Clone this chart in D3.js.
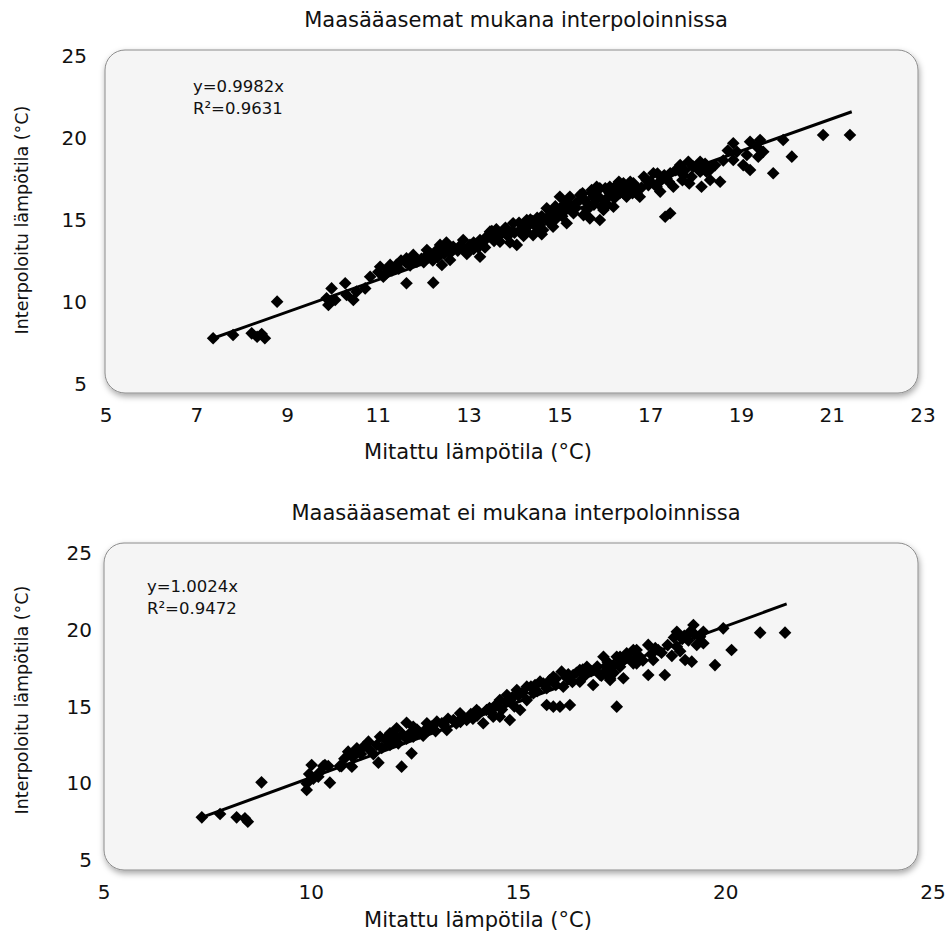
<!DOCTYPE html>
<html>
<head>
<meta charset="utf-8">
<script src="https://cdn.jsdelivr.net/npm/d3@7"></script>
<style>
  body { margin: 0; background: #fff; }
  text { fill: #111; }
</style>
</head>
<body>
<svg id="chart" width="952" height="940"></svg>
<script>
var topTitle = "Maasääasemat mukana interpoloinnissa";
var bottomTitle = "Maasääasemat ei mukana interpoloinnissa";
var xLabel = "Mitattu lämpötila (°C)";
var yLabel = "Interpoloitu lämpötila (°C)";

var topXTicks = [5, 7, 9, 11, 13, 15, 17, 19, 21, 23];
var bottomXTicks = [5, 10, 15, 20, 25];
var yTicks = [5, 10, 15, 20, 25];

var topEquation = ["y=0.9982x", "R²=0.9631"];
var bottomEquation = ["y=1.0024x", "R²=0.9472"];

var topFit = [[7.36, 7.76], [21.43, 21.57]];
var bottomFit = [[7.36, 7.78], [21.47, 21.68]];

var topPoints = [
  [7.36,7.76],[7.80,7.96],[8.21,8.06],[8.33,7.85],[8.50,7.76],[8.43,8.02],[8.77,9.99],
  [9.86,10.20],[9.90,9.79],[9.97,10.80],[10.05,10.09],[10.27,11.11],[10.30,10.40],[10.45,10.09],
  [10.52,10.60],[10.71,10.80],[10.82,11.51],[11.04,12.12],[11.11,11.51],[11.26,12.23],[11.40,12.23],
  [11.62,11.11],[12.21,11.15],[11.77,12.84],[12.07,12.73],[12.29,13.14],[11.18,11.72],[11.62,12.63],
  [11.85,12.43],[12.07,13.14],[12.36,13.45],[12.40,12.23],[12.58,12.53],[12.65,13.34],[12.87,13.75],
  [13.02,13.45],[13.24,12.73],[13.24,13.75],[13.46,13.95],[13.46,14.26],[13.68,13.65],[13.75,14.26],
  [13.97,14.77],[14.05,13.45],[14.19,14.56],[14.27,14.97],[14.41,14.05],[14.56,14.66],[14.63,14.36],
  [14.71,15.68],[14.78,15.27],[14.85,14.56],[15.00,16.39],[15.04,15.78],[15.15,14.77],[15.22,16.39],
  [15.30,15.38],[15.44,16.19],[15.52,15.27],[15.66,15.07],[15.74,16.39],[15.81,17.00],[15.88,14.97],
  [15.92,15.78],[16.10,17.00],[16.18,15.78],[16.32,16.60],[16.40,17.21],[16.62,17.00],[16.69,16.60],
  [15.96,15.58],[15.88,16.90],[16.10,16.60],[16.32,17.00],[16.62,17.21],[16.47,16.39],[16.76,16.39],
  [16.91,17.41],[17.06,17.82],[17.13,17.00],[17.21,16.70],[17.28,17.61],[17.32,15.17],[17.43,15.38],
  [17.43,17.82],[17.50,17.00],[17.65,18.32],[17.72,17.71],[17.83,18.52],[17.94,18.22],[18.09,18.52],
  [18.09,17.91],[18.12,17.00],[18.23,17.91],[18.31,17.41],[18.42,18.32],[18.53,17.30],[18.82,19.65],
  [18.82,18.63],[18.90,19.13],[19.04,18.32],[19.12,18.93],[19.19,19.74],[19.19,18.02],[19.34,19.44],
  [19.37,18.83],[19.41,19.85],[19.48,19.13],[19.70,17.82],[19.92,19.85],[20.11,18.83],[20.80,20.15],
  [21.39,20.15],
  [11.30,11.90],[11.50,12.50],[11.70,12.20],[11.95,12.60],[12.15,12.90],[12.20,12.50],[12.45,12.90],
  [12.75,13.10],[12.95,12.90],[12.50,13.60],[13.10,13.20],[13.35,13.30],[13.55,13.90],[13.85,14.00],
  [13.60,14.40],[13.90,13.60],[14.10,14.30],[14.30,14.60],[14.50,15.10],[14.90,15.00],[14.60,14.10],
  [14.90,15.50],[14.40,14.90],[15.10,15.50],[15.35,16.00],[15.60,15.60],[15.80,16.20],[15.50,16.60],
  [15.20,15.95],[15.70,16.80],[16.20,16.30],[16.50,16.80],[16.80,16.95],[16.30,17.30],[16.00,16.20],
  [17.40,17.30],[17.70,17.40],[17.90,17.60],[17.20,17.30],
  [11.00,11.80],[11.20,12.00],[11.45,12.00],[11.60,12.40],[11.80,12.60],[12.00,12.40],[12.10,12.90],
  [12.30,12.70],[12.45,13.20],[12.60,13.00],[12.80,13.40],[12.90,13.10],[13.10,13.60],[13.30,13.60],
  [13.40,14.00],[13.55,13.70],[13.70,14.10],[13.80,14.50],[14.00,14.20],[14.10,14.80],[14.25,14.30],
  [14.35,15.00],[14.50,14.50],[14.60,15.20],[14.75,14.90],[14.90,15.80],[15.05,15.20],[15.15,16.10],
  [15.35,15.70],[15.45,16.50],[15.60,16.00],[15.70,16.60],[15.85,16.40],[16.00,16.90],[16.05,15.90],
  [16.25,17.10],[16.40,16.60],[16.55,17.30],[16.70,16.90],[16.85,17.60],[17.00,17.30],[17.15,17.80],
  [17.35,17.50],[17.55,18.00],[17.75,18.00],[17.85,17.20],[18.00,18.20],[18.20,18.40],[18.30,18.00],
  [13.20,13.30],[13.50,14.30],[13.95,14.30],[14.20,14.00],[14.45,14.70],[14.70,15.00],[15.00,15.60],
  [15.25,15.80],[15.55,16.20],[15.75,15.90],[16.15,16.80],[16.60,16.60],[16.95,17.10],[17.30,17.70],
  [18.15,18.10],[18.60,18.60],[18.70,19.20]
];

var bottomPoints = [
  [7.36,7.78],[7.80,8.00],[8.20,7.78],[8.40,7.72],[8.47,7.50],[8.80,10.06],[9.89,9.99],[9.89,9.56],
  [10.01,11.19],[10.33,11.19],[10.45,10.04],[10.73,11.12],[10.98,11.08],[10.89,12.06],[10.17,10.43],
  [11.10,12.17],[10.29,11.12],[10.41,11.12],[10.69,11.12],[11.10,12.28],[11.26,12.38],[11.38,12.71],
  [11.58,12.49],[11.78,12.86],[11.90,12.49],[12.06,12.93],[11.66,13.03],[11.90,13.25],[12.06,13.58],
  [12.46,13.03],[12.46,13.68],[12.62,13.25],[12.79,13.58],[12.79,13.91],[13.03,14.01],[13.27,13.47],
  [13.43,14.12],[13.59,14.56],[13.75,14.12],[13.99,14.77],[14.15,13.91],[14.23,14.77],[14.39,14.34],
  [14.55,14.34],[14.55,15.42],[14.72,15.75],[14.79,14.12],[14.96,16.07],[15.04,14.77],[15.20,16.29],
  [15.20,15.42],[15.36,15.86],[15.52,16.62],[15.68,16.19],[15.68,15.10],[15.84,16.94],[15.84,14.99],
  [16.00,14.99],[16.04,17.27],[16.08,16.29],[16.24,15.10],[16.32,17.05],[16.48,17.38],[16.48,16.62],
  [16.65,17.59],[16.80,16.40],[16.97,17.05],[17.05,18.24],[17.21,16.84],[17.29,17.70],[17.37,14.99],
  [17.45,18.24],[17.53,16.84],[17.61,18.47],[17.77,18.68],[17.85,17.81],[17.13,17.38],[17.21,16.73],
  [17.37,18.24],[17.45,17.59],[17.77,17.81],[17.85,18.68],[18.13,19.01],[18.13,17.05],[18.25,18.03],
  [18.37,18.68],[18.53,17.05],[18.82,19.87],[18.82,18.90],[19.02,18.03],[19.14,19.87],[19.18,17.92],
  [19.22,20.31],[19.30,19.01],[19.38,19.55],[19.46,19.87],[19.46,19.12],[19.74,17.70],[19.94,20.09],
  [20.14,18.68],[20.83,19.81],[21.43,19.81],[11.62,11.34],[12.18,11.08],[12.30,13.94],[12.42,11.95],
  [10.80,11.60],[11.00,11.70],[11.20,11.90],[11.40,12.20],[11.50,11.90],[11.70,12.30],[11.90,12.90],
  [12.10,12.60],[12.20,13.20],[12.30,12.90],[12.55,13.50],[12.70,13.10],[12.90,13.70],[13.00,13.40],
  [13.15,13.90],[13.30,14.20],[13.50,13.90],[13.65,14.30],[13.85,14.50],[13.90,14.20],[14.05,14.60],
  [14.30,14.90],[14.45,15.10],[14.60,14.80],[14.70,15.30],[14.85,15.60],[14.90,15.00],[15.10,15.90],
  [15.30,16.30],[15.45,16.00],[15.60,16.50],[15.75,16.70],[15.90,16.40],[16.15,16.90],[16.30,16.60],
  [16.40,17.20],[16.60,17.00],[16.75,17.30],[16.90,17.60],[17.00,17.00],[17.15,17.90],[17.30,17.20],
  [17.50,17.90],[17.70,18.10],[17.90,18.30],[18.00,18.00],[18.20,18.40],[18.45,18.50],[18.60,19.00],
  [18.70,18.30],[18.95,19.40],[19.10,19.30],[19.25,19.70],[18.90,18.60],[19.00,19.60],
  [10.05,10.30],[10.20,10.70],[9.95,10.60],
  [12.00,12.90],[12.40,13.30],[12.85,13.50],[13.20,13.80],[13.60,14.00],[14.00,14.40],[14.35,14.60],
  [14.80,15.40],[15.00,15.70],[15.40,16.40],[15.90,16.80],[16.20,17.10],[16.55,17.40],[17.10,17.60],
  [17.60,18.20],[18.30,18.80],[18.75,19.50]
];

var svg = d3.select("#chart");

var defs = svg.append("defs");
var shadow = defs.append("filter")
    .attr("id", "shadow")
    .attr("x", "-5%").attr("y", "-5%")
    .attr("width", "110%").attr("height", "115%");
shadow.append("feDropShadow")
    .attr("dx", 1).attr("dy", 3)
    .attr("stdDeviation", 3)
    .attr("flood-color", "#000")
    .attr("flood-opacity", 0.35);

var diamond = d3.symbol().type(d3.symbolSquare).size(80);
var bigFont = "21px 'DejaVu Sans', Verdana, sans-serif";
var tickFont = "20px 'DejaVu Sans', Verdana, sans-serif";
var smallFont = "16.5px 'DejaVu Sans', Verdana, sans-serif";
var axisTitleFont = "17.5px 'DejaVu Sans', Verdana, sans-serif";

function drawPanel(p) {
    var x = d3.scaleLinear().domain([p.xTicks[0], p.xTicks[p.xTicks.length - 1]]).range(p.xRange);
    var y = d3.scaleLinear().domain([5, 25]).range(p.yRange);

    var g = svg.append("g");

    g.append("text")
        .attr("x", 516).attr("y", p.titleY)
        .attr("text-anchor", "middle")
        .style("font", bigFont)
        .text(p.title);

    g.append("rect")
        .attr("x", p.box[0]).attr("y", p.box[1])
        .attr("width", p.box[2] - p.box[0])
        .attr("height", p.box[3] - p.box[1])
        .attr("rx", 20).attr("ry", 20)
        .attr("fill", "#f5f5f5")
        .attr("stroke", "#8c8c8c")
        .attr("stroke-width", 1)
        .attr("filter", "url(#shadow)");

    // y tick labels
    g.selectAll(".ytick")
        .data(yTicks)
        .enter().append("text")
        .attr("class", "ytick")
        .attr("x", p.yTickX)
        .attr("y", function(d) { return y(d); })
        .attr("dy", "0.35em")
        .attr("text-anchor", "end")
        .style("font", tickFont)
        .text(function(d) { return d; });

    // x tick labels
    g.selectAll(".xtick")
        .data(p.xTicks)
        .enter().append("text")
        .attr("class", "xtick")
        .attr("x", function(d) { return x(d); })
        .attr("y", p.xTickY)
        .attr("dy", "0.35em")
        .attr("text-anchor", "middle")
        .style("font", tickFont)
        .text(function(d) { return d; });

    g.append("text")
        .attr("x", 478).attr("y", p.xLabelY)
        .attr("dy", "0.35em")
        .attr("text-anchor", "middle")
        .style("font", bigFont)
        .text(xLabel);

    g.append("text")
        .attr("transform", "translate(22," + p.yLabelY + ") rotate(-90)")
        .attr("dy", "0.35em")
        .attr("text-anchor", "middle")
        .style("font", axisTitleFont)
        .text(yLabel);

    g.selectAll(".pt")
        .data(p.points)
        .enter().append("path")
        .attr("class", "pt")
        .attr("d", diamond)
        .attr("transform", function(d) {
            return "translate(" + x(d[0]) + "," + y(d[1]) + ") rotate(45)";
        })
        .attr("fill", "#000");

    g.append("path")
        .datum(p.fit)
        .attr("d", d3.line().x(function(d) { return x(d[0]); }).y(function(d) { return y(d[1]); }))
        .attr("stroke", "#000")
        .attr("stroke-width", 3)
        .attr("fill", "none");

    g.selectAll(".eq")
        .data(p.equation)
        .enter().append("text")
        .attr("class", "eq")
        .attr("x", p.eqPos[0])
        .attr("y", function(d, i) { return p.eqPos[1] + i * 22; })
        .attr("dy", "0.35em")
        .style("font", smallFont)
        .text(function(d) { return d; });
}

drawPanel({
    title: topTitle, titleY: 27,
    box: [105, 50, 918, 393],
    xRange: [106, 923], yRange: [383.5, 55.5],
    xTicks: topXTicks, xTickY: 415, xLabelY: 452,
    yTickX: 87, yLabelY: 220,
    points: topPoints, fit: topFit,
    equation: topEquation, eqPos: [193, 86]
});

drawPanel({
    title: bottomTitle, titleY: 520,
    box: [104, 543, 918, 870],
    xRange: [104, 933], yRange: [860, 553],
    xTicks: bottomXTicks, xTickY: 892, xLabelY: 920,
    yTickX: 92, yLabelY: 700,
    points: bottomPoints, fit: bottomFit,
    equation: bottomEquation, eqPos: [147, 586]
});
</script>
</body>
</html>
